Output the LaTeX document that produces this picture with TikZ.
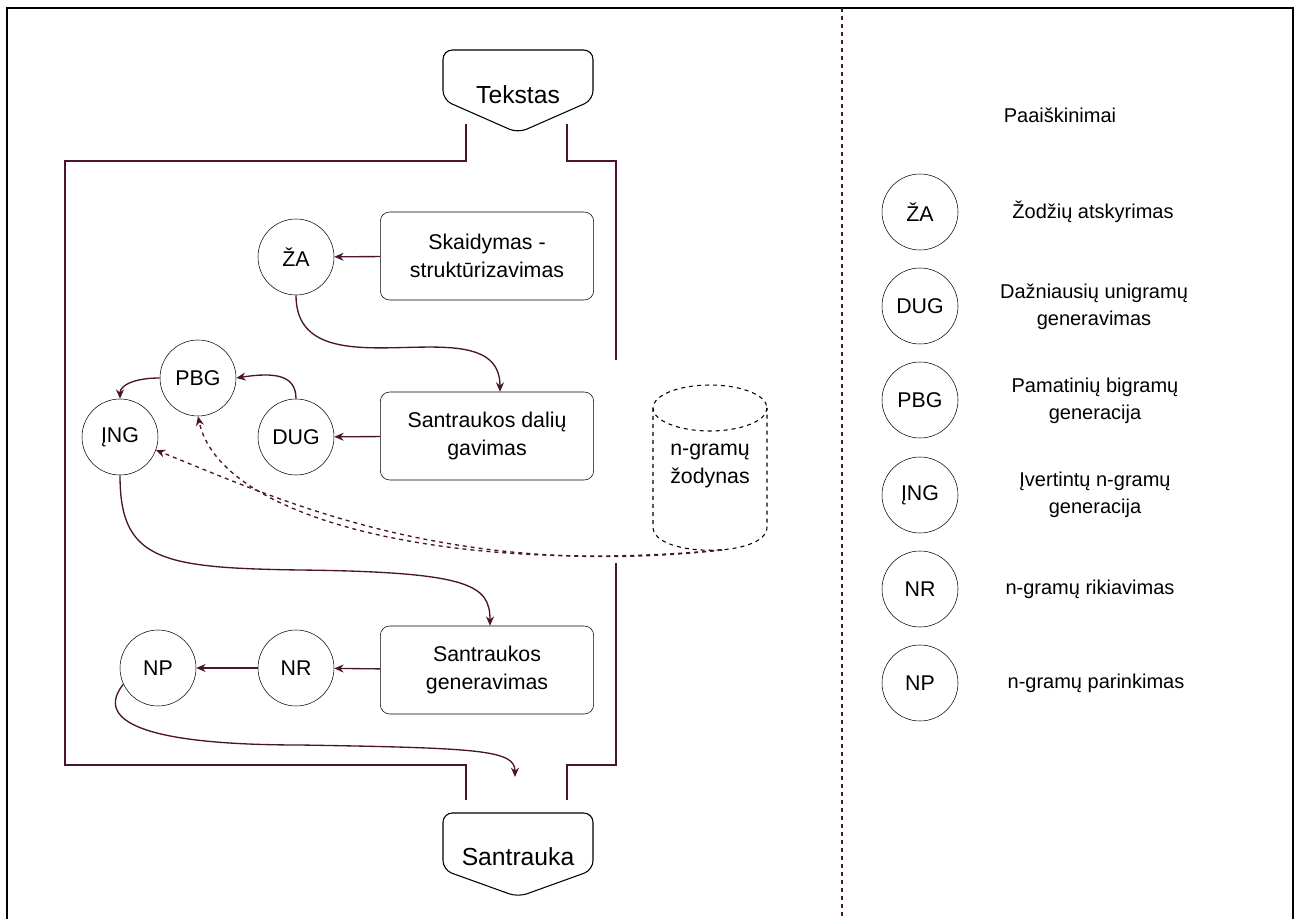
\documentclass[tikz,border=0pt]{standalone}
\usepackage{fontspec}
\setmainfont{Liberation Sans}
\usetikzlibrary{arrows.meta}
\definecolor{wine}{RGB}{74,20,48}
\tikzstyle{circleblock} = [draw, circle, minimum size=57pt, inner sep=0pt, font=\fontsize{16}{19}\selectfont]
\tikzstyle{procblock} = [draw, rounded corners=7pt, minimum width=160pt, minimum height=66pt, align=center, font=\fontsize{16}{21}\selectfont]
\tikzstyle{ioblock} = [font=\fontsize{18.5}{22}\selectfont]
\tikzstyle{flow} = [->, wine, line width=1pt]
\tikzstyle{dictflow} = [->, wine, line width=1pt, dashed]
\tikzstyle{frameline} = [wine, line width=1pt]
\tikzstyle{legendtext} = [align=center, font=\fontsize{15}{20}\selectfont]

\begin{document}
\begin{tikzpicture}[x=0.75pt, y=-0.75pt, >={Stealth[length=7pt, width=6pt]}]
      \useasboundingbox (0,0) rectangle (1299,919);
      % page border and divider
      \draw[line width=1.5pt] (7,919) -- (7,8) -- (1293,8) -- (1293,919);
      \draw[wine, dashed, line width=0.8pt] (842,8) -- (842,919);

      % input and output
      \draw[line width=0.8pt, rounded corners=7pt] (443,50) -- (593,50) -- (593,100) -- (518,133) -- (443,100) -- cycle;
      \node[ioblock] (tekstas) at (518,95) {Tekstas};
      \draw[line width=0.8pt, rounded corners=7pt] (443,813) -- (593,813) -- (593,870) -- (518,897) -- (443,870) -- cycle;
      \node[ioblock] (santrauka) at (518,857) {Santrauka};

      \draw[frameline] (466,124) -- (466,161) -- (65,161) -- (65,765) -- (466,765) -- (466,800);
      \draw[frameline] (567,124) -- (567,161) -- (616,161) -- (616,360);
      \draw[frameline] (616,563) -- (616,765) -- (567,765) -- (567,800);

      % process
      \node[circleblock] (za) at (296,257) {ŽA};
      \node[procblock] (skaidymas) at (487,256) {Skaidymas -\\struktūrizavimas};
      \node[circleblock] (pbg) at (198,378) {PBG};
      \node[circleblock] (ing) at (120,437) {ĮNG};
      \node[circleblock] (dug) at (296,437) {DUG};
      \node[procblock] (dalys) at (487,436) {Santraukos dalių\\gavimas};
      \node[circleblock] (nr) at (296,668) {NR};
      \node[circleblock] (np) at (158,668) {NP};
      \node[procblock] (generavimas) at (487,670) {Santraukos\\generavimas};

      % dictionary
      \draw[dashed, line width=0.8pt] (710,408) ellipse [x radius=57, y radius=23];
      \draw[dashed, line width=0.8pt] (653,408) -- (653,527) .. controls (653,558) and (767,558) .. (767,527) -- (767,408);
      \node[align=center, font=\fontsize{16}{21}\selectfont] (zodynas) at (710,466) {n-gramų\\žodynas};
      \coordinate (dictout) at (722,550);
      \coordinate (sink) at (515,777);

      \draw[flow] (skaidymas) -- (za);
      \draw[flow] (za.south) .. controls (296,400) and (500,300) .. ([xshift=9.75pt]dalys.north);
      \draw[flow] (dalys) -- (dug);
      \draw[flow] (dug.north) .. controls (296,375) and (275,372) .. (pbg.east);
      \draw[flow] (pbg.west) .. controls (135,378) and (120,385) .. (ing.north);
      \draw[flow] (ing.south) .. controls (120,560) and (160,568) .. (300,570) .. controls (470,572) and (490,585) .. ([xshift=2.25pt]generavimas.north);
      \draw[flow] (generavimas) -- (nr);
      \draw[flow] (nr) -- (np);
      \draw[flow] (np.205) .. controls (95,720) and (140,745) .. (300,745) .. controls (480,748) and (515,750) .. (sink);
      \draw[dictflow] (dictout) .. controls (450,575) and (220,520) .. (pbg.south);
      \draw[dictflow] (dictout) .. controls (450,580) and (280,500) .. (ing.-20);

      % legend
      \node[legendtext] (paaiskinimai) at (1060,115) {Paaiškinimai};
      \node[circleblock] (lza) at (920,212) {ŽA};
      \node[circleblock] (ldug) at (920,306) {DUG};
      \node[circleblock] (lpbg) at (920,400) {PBG};
      \node[circleblock] (ling) at (920,495) {ĮNG};
      \node[circleblock] (lnr) at (920,589) {NR};
      \node[circleblock] (lnp) at (920,683) {NP};
      \node[legendtext] at (1093,212) {Žodžių atskyrimas};
      \node[legendtext] at (1094,307) {Dažniausių unigramų\\generavimas};
      \node[legendtext] at (1095,401) {Pamatinių bigramų\\generacija};
      \node[legendtext] at (1095,495) {Įvertintų n-gramų\\generacija};
      \node[legendtext] at (1090,589) {n-gramų rikiavimas};
      \node[legendtext] at (1096,683) {n-gramų parinkimas};
    \end{tikzpicture}
\end{document}
